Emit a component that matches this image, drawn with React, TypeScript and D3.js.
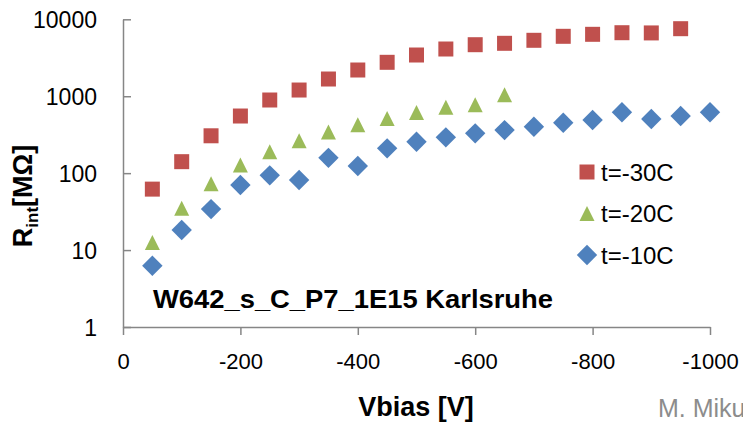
import * as d3 from 'd3'
import React, { useEffect, useRef } from 'react'

// bias voltage steps (V)
const vbias = [-50, -100, -150, -200, -250, -300, -350, -400, -450, -500, -550, -600, -650, -700, -750, -800, -850, -900, -950, -1000]

// R_int [MOhm] per temperature
const r30 = [62, 141, 306, 553, 893, 1204, 1674, 2192, 2760, 3434, 4110, 4675, 4874, 5333, 6010, 6380, 6695, 6650, 7550]
const r20 = [12.5, 35, 72.6, 128, 190, 264, 344, 425, 513, 614, 717, 773, 1043]
const r10 = [6.25, 18.2, 34.1, 70, 93.6, 81.4, 158, 124, 210, 256, 292, 329, 363, 401, 452, 491, 618, 506, 553, 618]

const seriesNames = ['t=-30C', 't=-20C', 't=-10C']
const seriesColors = ['#C0504D', '#9BBB59', '#4F81BD']
const xTicks = [0, -200, -400, -600, -800, -1000]
const yTicks = [1, 10, 100, 1000, 10000]

const W = 743
const H = 426
const font = '"Liberation Sans", Arial, sans-serif'

// marker path centred on 0,0
const markerPath = (kind: string, s: number) => {
    const h = s / 2
    if (kind === 'square') return `M${-h},${-h}H${h}V${h}H${-h}Z`
    if (kind === 'triangle') return `M0,${-h}L${h},${h}L${-h},${h}Z`
    const d = s * 0.68
    return `M0,${-d}L${d},0L0,${d}L${-d},0Z`
}

const App = (): JSX.Element => {
    const ref = useRef<SVGSVGElement>(null)

    useEffect(() => {
        const svg = d3.select(ref.current)
        svg.selectAll('*').remove()

        const x = d3.scaleLinear().domain([0, -1000]).range([123, 710])
        const y = d3.scaleLog().domain([1, 10000]).range([327, 19.3])
        const axisColor = '#868686'

        // x axis
        const xAxis = svg
            .append('g')
            .attr('transform', `translate(0,${y(1)})`)
            .call(d3.axisBottom(x).tickValues(xTicks).tickSize(8).tickSizeOuter(0).tickFormat(d3.format('d')))
        xAxis.select('.domain').attr('stroke', axisColor).attr('stroke-width', 1.5)
        xAxis.selectAll('.tick line').attr('stroke', axisColor).attr('stroke-width', 1.5)
        xAxis
            .selectAll('.tick text')
            .attr('font-family', font)
            .attr('font-size', 22)
            .attr('fill', '#000')
            .attr('dy', 0)
            .attr('y', 42)
            .text((d: any) => (d === 0 ? '0' : `${d}`).replace('−', '-'))

        // y axis (ticks inside)
        const yAxis = svg
            .append('g')
            .attr('transform', `translate(${x(0)},0)`)
            .call(d3.axisLeft(y).tickValues(yTicks).tickSize(-8).tickSizeOuter(0).tickFormat(d3.format('d')))
        yAxis.select('.domain').attr('stroke', axisColor).attr('stroke-width', 1.5)
        yAxis.selectAll('.tick line').attr('stroke', axisColor).attr('stroke-width', 1.5)
        yAxis
            .selectAll('.tick text')
            .attr('font-family', font)
            .attr('font-size', 23)
            .attr('fill', '#000')
            .attr('x', -26)
            .attr('dy', '0.35em')

        // data
        const series = [
            { vals: r30, kind: 'square', size: 15 },
            { vals: r20, kind: 'triangle', size: 15 },
            { vals: r10, kind: 'diamond', size: 15 },
        ]
        series.forEach((s, i) => {
            svg.append('g')
                .selectAll('path')
                .data(s.vals)
                .enter()
                .append('path')
                .attr('d', markerPath(s.kind, s.size))
                .attr('transform', (d, j) => `translate(${x(vbias[j])},${y(d)})`)
                .attr('fill', seriesColors[i])
        })

        // legend
        const legend = svg.append('g')
        seriesNames.forEach((name, i) => {
            const ly = 172 + i * 41.5
            legend
                .append('path')
                .attr('d', markerPath(series[i].kind, 15))
                .attr('transform', `translate(587,${ly})`)
                .attr('fill', seriesColors[i])
            legend
                .append('text')
                .attr('x', 601)
                .attr('y', ly)
                .attr('dy', '0.36em')
                .attr('font-family', font)
                .attr('font-size', 24)
                .text(name)
        })

        // annotation
        svg.append('text')
            .attr('x', 153)
            .attr('y', 308)
            .attr('font-family', font)
            .attr('font-weight', 'bold')
            .attr('font-size', 25)
            .attr('textLength', 400)
            .attr('lengthAdjust', 'spacingAndGlyphs')
            .text('W642_s_C_P7_1E15 Karlsruhe')

        // axis titles
        svg.append('text')
            .attr('x', 416)
            .attr('y', 416)
            .attr('text-anchor', 'middle')
            .attr('font-family', font)
            .attr('font-weight', 'bold')
            .attr('font-size', 27)
            .text('Vbias [V]')

        const yt = svg
            .append('text')
            .attr('transform', 'translate(32,196) rotate(-90)')
            .attr('text-anchor', 'middle')
            .attr('font-family', font)
            .attr('font-weight', 'bold')
            .attr('font-size', 27)
        yt.append('tspan').text('R')
        yt.append('tspan').attr('font-size', 17).attr('dy', 6).text('int')
        yt.append('tspan').attr('dy', -6).text('[MΩ]')

        // credit (clipped at right edge, as in the original)
        svg.append('text')
            .attr('x', 658)
            .attr('y', 417)
            .attr('font-family', font)
            .attr('font-size', 25)
            .attr('fill', '#8c8c8c')
            .text('M. Mikuž')
    }, [])

    return <svg ref={ref} width={W} height={H} style={{ position: 'absolute', left: 0, top: 0, background: '#fff' }} />
}

export default App
